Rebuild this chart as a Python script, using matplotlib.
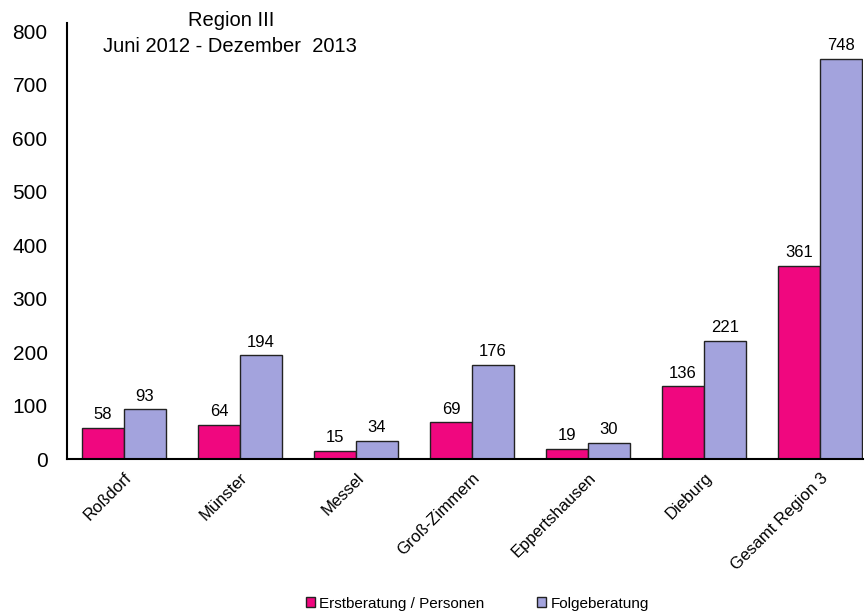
import matplotlib.pyplot as plt
import numpy as np

plt.rcParams["font.family"] = ["Liberation Sans", "DejaVu Sans"]

orte = ["Roßdorf", "Münster", "Messel", "Groß-Zimmern", "Eppertshausen",
        "Dieburg", "Gesamt Region 3"]
erstberatung = [58, 64, 15, 69, 19, 136, 361]
folgeberatung = [93, 194, 34, 176, 30, 221, 748]

PINK = "#F0077F"
LILA = "#A3A3DD"


def main():
    fig = plt.figure(figsize=(8.66, 6.14), dpi=100)
    ax = fig.add_axes([0.0774, 0.2524, 0.9191, 0.7101])

    x = np.arange(len(orte))
    w = 0.362
    b1 = ax.bar(x - w / 2, erstberatung, w, color=PINK, edgecolor="#222222",
                linewidth=1.0, label="Erstberatung / Personen")
    b2 = ax.bar(x + w / 2, folgeberatung, w, color=LILA, edgecolor="#222222",
                linewidth=1.0, label="Folgeberatung")
    ax.bar_label(b1, padding=4, fontsize=12)
    ax.bar_label(b2, padding=4, fontsize=12)

    ax.set_xlim(-0.49, 6.37)
    ax.set_ylim(0, 815)
    ax.set_yticks(range(0, 801, 100))
    ax.tick_params(axis="y", length=0, labelsize=15, pad=14)
    ax.tick_params(axis="x", length=0, pad=8)
    ax.set_xticks(x)
    ax.set_xticklabels(orte, rotation=45, ha="right", rotation_mode="anchor",
                       fontsize=12)
    for s in ["top", "right"]:
        ax.spines[s].set_visible(False)
    for s in ["left", "bottom"]:
        ax.spines[s].set_linewidth(1.5)
        ax.spines[s].set_color("black")

    fig.text(0.267, 0.966, "Region III", ha="center", va="center",
             fontsize=14.5)
    fig.text(0.266, 0.925, "Juni 2012 - Dezember  2013", ha="center",
             va="center", fontsize=14.5)

    fig.legend(loc="center", bbox_to_anchor=(0.551, 0.017), ncol=2,
               frameon=False, fontsize=11, handlelength=0.6,
               handleheight=0.6, handletextpad=0.3, columnspacing=3.4)

    fig.savefig("out.png", dpi=100)
    plt.close(fig)


if __name__ == "__main__":
    main()
